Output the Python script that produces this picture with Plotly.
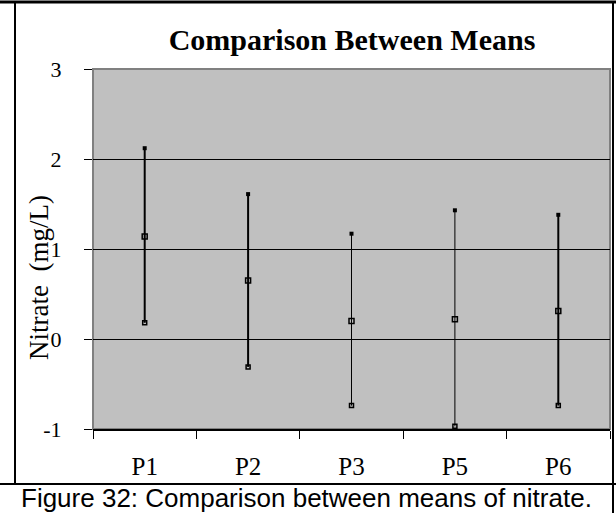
import plotly.graph_objects as go

categories = ["P1", "P2", "P3", "P5", "P6"]
high_vals = [2.12, 1.61, 1.17, 1.43, 1.38]
mean_vals = [1.14, 0.65, 0.20, 0.22, 0.31]
low_vals = [0.18, -0.31, -0.74, -0.97, -0.74]
line_widths = [2, 2, 1, 1, 2]
y_ticks = [-1, 0, 1, 2, 3]

fig = go.Figure()
for c, hi, me, lo, w in zip(categories, high_vals, mean_vals, low_vals, line_widths):
    fig.add_trace(go.Scatter(x=[c, c], y=[lo, hi], mode="lines",
                             line=dict(color="black", width=w), showlegend=False, hoverinfo="skip"))
    fig.add_trace(go.Scatter(x=[c], y=[hi], mode="markers",
                             marker=dict(symbol="square", size=4, color="black"), showlegend=False))
    fig.add_trace(go.Scatter(x=[c], y=[me], mode="markers",
                             marker=dict(symbol="square-open", size=5, color="black", line=dict(width=1.5)),
                             showlegend=False))
    fig.add_trace(go.Scatter(x=[c], y=[lo], mode="markers",
                             marker=dict(symbol="square-open", size=4, color="black", line=dict(width=1.5)),
                             showlegend=False))

serif = "Liberation Serif, Times New Roman, serif"

L, R, T, B = 93, 6, 69, 84
W, H = 616, 513
PW, PH = W - L - R, H - T - B


def px(x):
    return (x - L) / PW


def py(y):
    return (H - B - y) / PH


fig.update_layout(
    width=W, height=H,
    margin=dict(l=L, r=R, t=T, b=B),
    paper_bgcolor="white",
    plot_bgcolor="#C0C0C0",
    showlegend=False,
    title=dict(text="<b>Comparison Between Means</b>", x=352 / W, xanchor="center",
               y=1 - 39 / H, yanchor="middle",
               font=dict(family=serif, size=30, color="black")),
    xaxis=dict(type="category", categoryorder="array", categoryarray=categories,
               range=[-0.5, 4.5], tickson="boundaries", ticks="outside", ticklen=8,
               tickwidth=1, tickcolor="black", showline=True, linecolor="black", linewidth=2,
               showgrid=False, zeroline=False,
               tickfont=dict(family=serif, size=25, color="black"), ticklabelstandoff=14),
    yaxis=dict(range=[-1, 3], tickvals=y_ticks, ticktext=[str(v) for v in y_ticks],
               ticks="outside", ticklen=8, tickcolor="black",
               showgrid=True, gridcolor="black", gridwidth=1, zeroline=False,
               showline=False,
               tickfont=dict(family=serif, size=22, color="black"), ticklabelstandoff=18),
)

# y-axis title
fig.add_annotation(text="Nitrate  (mg/L)", xref="paper", yref="paper", x=px(39), y=py(278),
                   xanchor="center", yanchor="middle", textangle=-90, showarrow=False,
                   font=dict(family=serif, size=27, color="black"))

# plot area border (gray)
fig.add_shape(type="rect", xref="paper", yref="paper", x0=0, x1=1, y0=0, y1=1,
              line=dict(color="#808080", width=2), layer="below")

# outer frame lines
frame = dict(color="black", width=2)
fig.add_shape(type="line", xref="paper", yref="paper", x0=px(0), x1=px(W),
              y0=py(2), y1=py(2), line=dict(color="black", width=3))
fig.add_shape(type="line", xref="paper", yref="paper", x0=px(15), x1=px(15),
              y0=py(484), y1=py(2), line=frame)
fig.add_shape(type="line", xref="paper", yref="paper", x0=px(613), x1=px(613),
              y0=py(H), y1=py(2), line=frame)
fig.add_shape(type="line", xref="paper", yref="paper", x0=px(0), x1=px(W),
              y0=py(484), y1=py(484), line=frame)

fig.add_annotation(text="Figure 32: Comparison between means of nitrate.", xref="paper", yref="paper",
                   x=px(306), y=py(498), xanchor="center", yanchor="middle",
                   showarrow=False, font=dict(family="Liberation Sans, Arial, sans-serif", size=26, color="black"))

fig.write_html("out.html")
